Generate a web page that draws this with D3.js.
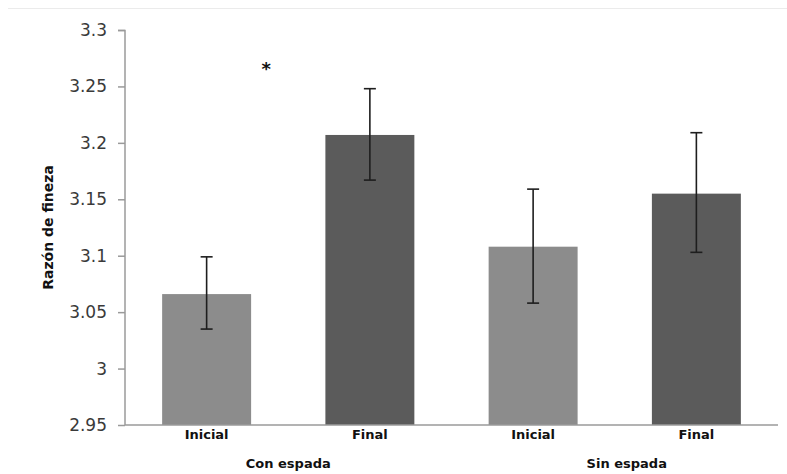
<!DOCTYPE html>
<html>
<head>
<meta charset="utf-8">
<script src="https://cdn.jsdelivr.net/npm/d3@7"></script>
<style>
  body { margin: 0; background: #fff; }
  svg { display: block; }
</style>
</head>
<body>
<div id="chart"></div>
<script>
// datos
const categories = ['Inicial', 'Final', 'Inicial', 'Final']
const groups = ['Con espada', 'Sin espada']
const groupOf = [0, 0, 1, 1]
const means = [3.066, 3.207, 3.108, 3.155]
const errLow = [3.035, 3.167, 3.058, 3.103]
const errHigh = [3.099, 3.248, 3.159, 3.209]
const yTicks = [2.95, 3, 3.05, 3.1, 3.15, 3.2, 3.25, 3.3]
const yTickLabels = ['2.95', '3', '3.05', '3.1', '3.15', '3.2', '3.25', '3.3']
const barColors = ['#8c8c8c', '#5b5b5b', '#8c8c8c', '#5b5b5b']
const starIndex = 0 // asterisco sobre el grupo "Con espada"

const width = 787
const height = 474
const margin = {top: 30, left: 125, right: 9, bottom: 49}
const innerW = width - margin.left - margin.right
const innerH = height - margin.top - margin.bottom

const svg = d3.select('#chart').append('svg').attr('width', width).attr('height', height)

// linea gris superior del marco
svg.append('line').attr('x1', 8).attr('x2', width).attr('y1', 8.5).attr('y2', 8.5)
  .attr('stroke', '#ebebeb').attr('stroke-width', 1)

const g = svg.append('g').attr('transform', `translate(${margin.left},${margin.top})`)

const x = d3.scaleBand().domain(d3.range(categories.length)).range([0, innerW])
  .paddingInner(0.455).paddingOuter(0.2275)
const y = d3.scaleLinear().domain([2.95, 3.3]).range([innerH, 0])

// eje y
const yAxis = d3.axisLeft(y).tickValues(yTicks).tickSize(7).tickPadding(11)
  .tickFormat((d, i) => yTickLabels[i])
const ya = g.append('g').call(yAxis)
ya.select('.domain').attr('stroke', '#9a9a9a').attr('stroke-width', 1.5)
  .attr('d', `M-7,0.5H0V${innerH}`)
ya.selectAll('.tick line').attr('stroke', '#9a9a9a').attr('stroke-width', 1.5)
ya.selectAll('.tick text').attr('font-family', 'DejaVu Sans').attr('font-size', 17)
  .attr('fill', '#3a3a3a')

// barras
g.selectAll('rect.bar').data(means).join('rect').attr('class', 'bar')
  .attr('x', (d, i) => x(i)).attr('width', x.bandwidth())
  .attr('y', d => y(d)).attr('height', d => innerH - y(d))
  .attr('fill', (d, i) => barColors[i])

// eje x
g.append('line').attr('x1', 0).attr('x2', innerW).attr('y1', innerH).attr('y2', innerH)
  .attr('stroke', '#9a9a9a').attr('stroke-width', 1.5)

// barras de error
const cap = 6
means.forEach((m, i) => {
  const cx = x(i) + x.bandwidth() / 2
  const eg = g.append('g').attr('stroke', '#1e1e1e').attr('stroke-width', 1.6)
  eg.append('line').attr('x1', cx).attr('x2', cx).attr('y1', y(errHigh[i])).attr('y2', y(errLow[i]))
  eg.append('line').attr('x1', cx - cap).attr('x2', cx + cap).attr('y1', y(errHigh[i])).attr('y2', y(errHigh[i]))
  eg.append('line').attr('x1', cx - cap).attr('x2', cx + cap).attr('y1', y(errLow[i])).attr('y2', y(errLow[i]))
})

// etiquetas de categoria
g.selectAll('text.cat').data(categories).join('text').attr('class', 'cat')
  .attr('x', (d, i) => x(i) + x.bandwidth() / 2).attr('y', innerH + 14)
  .attr('text-anchor', 'middle').attr('font-family', 'DejaVu Sans').attr('font-weight', 'bold')
  .attr('font-size', 13).attr('fill', '#111').text(d => d)

// etiquetas de grupo
const groupX = groups.map((gname, k) => {
  const idx = d3.range(categories.length).filter(i => groupOf[i] === k)
  return d3.mean(idx, i => x(i) + x.bandwidth() / 2)
})
g.selectAll('text.grp').data(groups).join('text').attr('class', 'grp')
  .attr('x', (d, k) => groupX[k] + (k === 1 ? 12 : 0)).attr('y', innerH + 43)
  .attr('text-anchor', 'middle').attr('font-family', 'DejaVu Sans').attr('font-weight', 'bold')
  .attr('font-size', 13).attr('fill', '#111').text(d => d)

// titulo del eje y
svg.append('text').attr('transform', `translate(53,${margin.top + y(3.125)}) rotate(-90)`)
  .attr('text-anchor', 'middle').attr('font-family', 'DejaVu Sans').attr('font-weight', 'bold')
  .attr('font-size', 14).attr('fill', '#111').text('Razón de fineza')

// asterisco de significancia
g.append('text').attr('x', groupX[groupOf[starIndex]] - 22).attr('y', y(3.26))
  .attr('text-anchor', 'middle').attr('font-family', 'DejaVu Sans').attr('font-weight', 'bold')
  .attr('font-size', 18).attr('fill', '#111').text('*')
</script>
</body>
</html>
